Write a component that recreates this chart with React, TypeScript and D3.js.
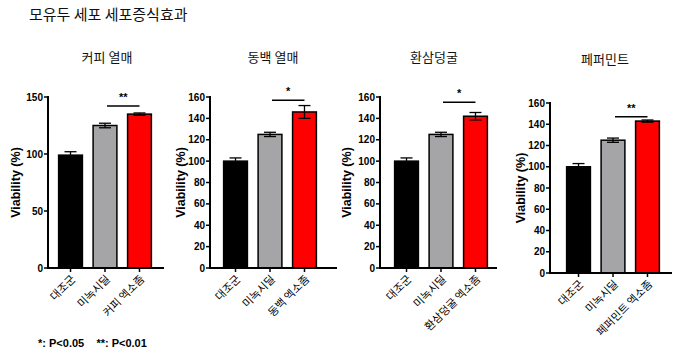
import * as d3 from 'd3';

// 모유두 세포 세포증식효과 - four small bar panels
const panelTitles = ['커피 열매', '동백 열매', '환삼덩굴', '페퍼민트'];
const baseGroups = ['대조군', '미녹시딜'];
const exosomeLabels = ['커피 엑소좀', '동백 엑소좀', '환삼덩굴 엑소좀', '페퍼민트 엑소좀'];
const means = [
    [99, 125, 135],
    [100, 125, 146],
    [100, 125, 142],
    [100, 125, 143],
];
const errs = [
    [3, 2, 1],
    [3, 2, 6],
    [3, 2, 3.5],
    [3, 2, 1],
];
const yMaxes = [150, 160, 160, 160];
const tickSteps = [50, 20, 20, 20];
const sigMarks = ['**', '*', '*', '**'];
const sigLevels = [142, 157, 155, 147];

const barColors = ['#000000', '#a5a5a8', '#ff0000'];
const latin = '"Liberation Sans", Arial, sans-serif';
const korean = '"Noto Sans CJK KR", "Noto Sans", sans-serif';

// layout of each panel (pixels)
const layouts = [
    { axisX: 48, x0: 50, x1: 160, axisEnd: 164, top: 97, bottom: 268, titleX: 107, titleY: 62, labelX: 16 },
    { axisX: 210, x0: 215, x1: 325, axisEnd: 337, top: 97, bottom: 268, titleX: 273, titleY: 62, labelX: 181 },
    { axisX: 380, x0: 386, x1: 496, axisEnd: 497, top: 97, bottom: 268, titleX: 434, titleY: 62, labelX: 347 },
    { axisX: 550, x0: 558, x1: 668, axisEnd: 672, top: 103, bottom: 273, titleX: 605, titleY: 64, labelX: 521 },
];

function Panel({ idx }: { idx: number }) {
    const L = layouts[idx];
    const cats = [...baseGroups, exosomeLabels[idx]];
    const vals = means[idx];
    const ers = errs[idx];

    const x = d3.scaleBand<string>()
        .domain(cats)
        .range([L.x0, L.x1])
        .paddingInner(0.31)
        .paddingOuter(0.25);
    const y = d3.scaleLinear().domain([0, yMaxes[idx]]).range([L.bottom, L.top]);
    const ticks = d3.range(0, yMaxes[idx] + 1, tickSteps[idx]);
    const bw = x.bandwidth();
    const sigY = y(sigLevels[idx]);
    const gx = (x(cats[1]) || 0) + bw / 2;
    const rx = (x(cats[2]) || 0) + bw / 2;

    return (
        <g>
            <text x={L.titleX} y={L.titleY} textAnchor="middle" fontFamily={korean} fontSize={13} fill="#111">
                {panelTitles[idx]}
            </text>

            {/* bars */}
            {cats.map((c, i) => (
                <rect key={c} x={x(c)} y={y(vals[i])} width={bw} height={L.bottom - y(vals[i])}
                    fill={barColors[i]} stroke="#000" strokeWidth={1.5} />
            ))}

            {/* error bars */}
            {cats.map((c, i) => {
                const cx = (x(c) || 0) + bw / 2;
                const hi = y(vals[i] + ers[i]);
                const lo = y(vals[i] - ers[i]);
                return (
                    <g key={'e' + c} stroke="#000" strokeWidth={1.3}>
                        <line x1={cx} x2={cx} y1={hi} y2={lo} />
                        <line x1={cx - 6} x2={cx + 6} y1={hi} y2={hi} />
                        <line x1={cx - 6} x2={cx + 6} y1={lo} y2={lo} />
                    </g>
                );
            })}

            {/* y axis */}
            <line x1={L.axisX} x2={L.axisX} y1={L.top - 1} y2={L.bottom} stroke="#000" strokeWidth={2} />
            {ticks.map(t => (
                <g key={t}>
                    <line x1={L.axisX - 4} x2={L.axisX} y1={y(t)} y2={y(t)} stroke="#000" strokeWidth={1.5} />
                    <text x={L.axisX - 5} y={y(t)} dy="0.35em" textAnchor="end" fontFamily={latin}
                        fontWeight="bold" fontSize={10} fill="#000">{t}</text>
                </g>
            ))}

            {/* x axis */}
            <line x1={L.axisX - 1} x2={L.axisEnd} y1={L.bottom} y2={L.bottom} stroke="#000" strokeWidth={2} />
            {cats.map(c => {
                const cx = (x(c) || 0) + bw / 2;
                return (
                    <g key={'x' + c}>
                        <line x1={cx} x2={cx} y1={L.bottom} y2={L.bottom + 4} stroke="#000" strokeWidth={1.5} />
                        <text transform={`translate(${cx + 3},${L.bottom + 9}) rotate(-45)`} textAnchor="end"
                            dy="0.35em" fontFamily={korean} fontSize={11} fill="#000">{c}</text>
                    </g>
                );
            })}

            {/* y label */}
            <text transform={`translate(${L.labelX},${(L.top + L.bottom) / 2}) rotate(-90)`} textAnchor="middle"
                dy="0.35em" fontFamily={latin} fontWeight="bold" fontSize={12.5} fill="#000">
                Viability (%)
            </text>

            {/* significance */}
            <line x1={gx + 2} x2={rx} y1={sigY} y2={sigY} stroke="#000" strokeWidth={1.5} />
            <text x={(gx + rx) / 2 + 1} y={sigY - 5} textAnchor="middle" fontFamily={latin}
                fontWeight="bold" fontSize={11} fill="#000">{sigMarks[idx]}</text>
        </g>
    );
}

export default function App() {
    return (
        <svg width={677} height={355} style={{ position: 'absolute', left: 0, top: 0, background: '#fff' }}>
            <text x={29} y={20} fontFamily={korean} fontSize={15} fill="#111">모유두 세포 세포증식효과</text>
            {panelTitles.map((_, i) => <Panel key={i} idx={i} />)}
            <text x={38} y={347} fontFamily={latin} fontWeight="bold" fontSize={11} fill="#000" xmlSpace="preserve">
                *: P&lt;0.05{'\u00a0\u00a0\u00a0\u00a0'}**: P&lt;0.01
            </text>
        </svg>
    );
}
